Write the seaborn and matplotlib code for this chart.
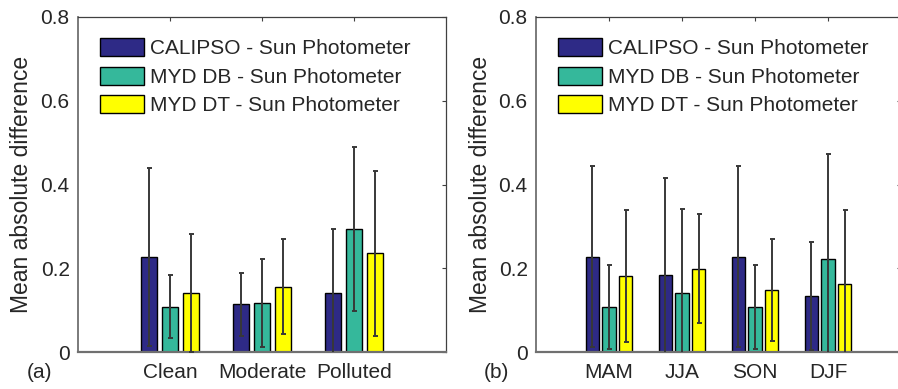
import matplotlib
matplotlib.use("Agg")
import matplotlib.pyplot as plt
import matplotlib.patches as mpatches
import seaborn as sns
import pandas as pd

# ---------------- data ----------------
series = ["CALIPSO - Sun Photometer", "MYD DB - Sun Photometer", "MYD DT - Sun Photometer"]
colors = ["#2e2a86", "#35b89b", "#ffff00"]

left_categories = ["Clean", "Moderate", "Polluted"]
left_calipso = [0.227, 0.114, 0.142]
left_db = [0.108, 0.116, 0.294]
left_dt = [0.140, 0.156, 0.236]
left_calipso_err = [0.213, 0.075, 0.151]
left_db_err = [0.075, 0.105, 0.196]
left_dt_err = [0.141, 0.114, 0.197]

right_categories = ["MAM", "JJA", "SON", "DJF"]
right_calipso = [0.228, 0.185, 0.228, 0.134]
right_db = [0.108, 0.142, 0.108, 0.223]
right_dt = [0.182, 0.199, 0.148, 0.162]
right_calipso_err = [0.217, 0.230, 0.217, 0.129]
right_db_err = [0.100, 0.200, 0.100, 0.251]
right_dt_err = [0.157, 0.130, 0.122, 0.177]

yticks = [0, 0.2, 0.4, 0.6, 0.8]
ytick_labels = ["0", "0.2", "0.4", "0.6", "0.8"]
ylabel = "Mean absolute difference"
panel_labels = ["(a)", "(b)"]

# ---------------- style ----------------
sns.set_theme(style="white")
plt.rcParams["font.family"] = ["Liberation Sans", "DejaVu Sans"]
TXT = "#262626"
FS = 15
FS_LABEL = 16.5

W, H = 898, 389
fig = plt.figure(figsize=(W / 100, H / 100), dpi=100)
fig.patch.set_facecolor("white")


def make_df(cats, vals_list):
    rows = []
    for s, vals in zip(series, vals_list):
        for c, v in zip(cats, vals):
            rows.append({"cat": c, "series": s, "value": v})
    return pd.DataFrame(rows)


def draw_panel(rect, cats, vals_list, errs_list, xlim, label_x):
    ax = fig.add_axes(rect)
    df = make_df(cats, vals_list)
    sns.barplot(data=df, x="cat", y="value", hue="series", order=cats,
                hue_order=series, palette=colors, width=0.68, gap=0.2,
                errorbar=None, edgecolor="black", linewidth=1.0,
                saturation=1.0, legend=False, ax=ax)
    for cont, vals, errs in zip(ax.containers, vals_list, errs_list):
        xs = [b.get_x() + b.get_width() / 2 for b in cont]
        ax.errorbar(xs, vals, yerr=errs, fmt="none", ecolor="#383838",
                    elinewidth=1.4, capsize=1.8, capthick=1.4, zorder=5)
    ax.set_xlim(*xlim)
    ax.set_ylim(0, 0.8)
    ax.set_yticks(yticks)
    ax.set_yticklabels(ytick_labels)
    ax.set_xlabel("")
    ax.set_ylabel(ylabel, fontsize=FS_LABEL, color=TXT)
    ax.yaxis.set_label_coords(label_x, 0.5)
    ax.tick_params(axis="both", direction="in", length=3, width=0.8,
                   colors="#404040", labelsize=FS, top=True, right=True,
                   labelcolor=TXT)
    ax.tick_params(axis="y", pad=6)
    ax.tick_params(axis="x", pad=8, bottom=False)
    for side in ["left", "right", "top"]:
        ax.spines[side].set_color("#404040")
        ax.spines[side].set_linewidth(0.9)
    ax.spines["bottom"].set_color("#707070")
    ax.spines["bottom"].set_linewidth(1.6)
    ax.spines["left"].set_color("#707070")
    ax.spines["left"].set_linewidth(1.3)
    handles = [mpatches.Patch(facecolor=c, edgecolor="black", linewidth=1.0, label=s)
               for c, s in zip(colors, series)]
    ax.legend(handles=handles, loc="upper left", frameon=False,
              bbox_to_anchor=(0.06, 0.937), borderpad=0, borderaxespad=0,
              handlelength=2.1, handleheight=0.96, handletextpad=0.3,
              labelspacing=0.4, fontsize=FS, labelcolor=TXT)
    return ax


axL = draw_panel([78 / W, 37 / H, 368 / W, 335 / H], left_categories,
                 [left_calipso, left_db, left_dt],
                 [left_calipso_err, left_db_err, left_dt_err], (-1, 3), -0.122)
axR = draw_panel([536 / W, 37 / H, 365 / W, 335 / H], right_categories,
                 [right_calipso, right_db, right_dt],
                 [right_calipso_err, right_db_err, right_dt_err], (-1, 4), -0.12)

fig.text(40 / W, 1 - 372 / H, panel_labels[0], ha="center", va="center",
         fontsize=FS, color=TXT)
fig.text(496 / W, 1 - 372 / H, panel_labels[1], ha="center", va="center",
         fontsize=FS, color=TXT)

fig.savefig("out.png", dpi=100, facecolor="white")
